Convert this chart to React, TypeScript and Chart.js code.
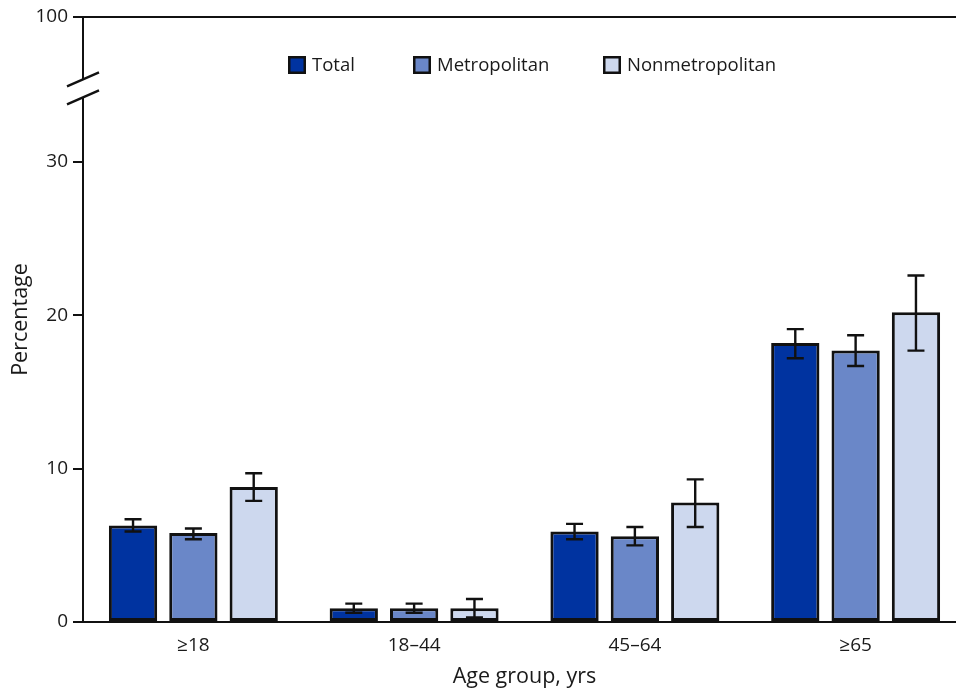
import React, { useEffect, useRef } from "react";
import { Chart, registerables } from "chart.js";

Chart.register(...registerables);

const categories = ["≥18", "18–44", "45–64", "≥65"];
const seriesNames = ["Total", "Metropolitan", "Nonmetropolitan"];
const totalValues = [6.3, 0.9, 5.9, 18.2];
const totalLower = [5.9, 0.6, 5.4, 17.2];
const totalUpper = [6.7, 1.2, 6.4, 19.1];
const metroValues = [5.8, 0.9, 5.6, 17.7];
const metroLower = [5.4, 0.6, 5.0, 16.7];
const metroUpper = [6.1, 1.2, 6.2, 18.7];
const nonmetroValues = [8.8, 0.9, 7.8, 20.2];
const nonmetroLower = [7.9, 0.3, 6.2, 17.7];
const nonmetroUpper = [9.7, 1.5, 9.3, 22.6];
const yTickValues = [0, 10, 20, 30];
const topTickLabel = "100";
const TOP = 39.46; // position of the broken-axis top tick
const BREAK_VALUE = 34.8;

const colors = ["#0033a0", "#6a87c8", "#cdd8ee"];
const FONT = "'Open Sans', 'DejaVu Sans', sans-serif";
const TEXT = "#1a1a1a";

const lowers = [totalLower, metroLower, nonmetroLower];
const uppers = [totalUpper, metroUpper, nonmetroUpper];
const legendOffsets = [205, 330, 520];

const errorBarPlugin = {
  id: "errorBars",
  afterDatasetsDraw(chart: any) {
    const ctx = chart.ctx;
    const y = chart.scales.y;
    ctx.save();
    ctx.strokeStyle = "#111";
    ctx.lineWidth = 2.4;
    chart.data.datasets.forEach((_ds: any, i: number) => {
      const meta = chart.getDatasetMeta(i);
      meta.data.forEach((el: any, j: number) => {
        const x = el.x;
        const yl = y.getPixelForValue(lowers[i][j]);
        const yu = y.getPixelForValue(uppers[i][j]);
        const cap = 8.5;
        ctx.beginPath();
        ctx.moveTo(x, yl);
        ctx.lineTo(x, yu);
        ctx.moveTo(x - cap, yl);
        ctx.lineTo(x + cap, yl);
        ctx.moveTo(x - cap, yu);
        ctx.lineTo(x + cap, yu);
        ctx.stroke();
      });
    });
    ctx.restore();
  },
};

const decorPlugin = {
  id: "decor",
  afterDraw(chart: any) {
    const ctx = chart.ctx;
    const area = chart.chartArea;
    const y = chart.scales.y;
    const left = area.left;
    // axis break
    const yc = y.getPixelForValue(BREAK_VALUE);
    const y1 = yc - 9;
    const y2 = yc + 9;
    ctx.save();
    ctx.fillStyle = "#fff";
    ctx.fillRect(left - 3, y1, 6, y2 - y1);
    ctx.strokeStyle = "#111";
    ctx.lineWidth = 2.4;
    ctx.beginPath();
    ctx.moveTo(left - 16, y1 + 7);
    ctx.lineTo(left + 16, y1 - 7);
    ctx.moveTo(left - 16, y2 + 7);
    ctx.lineTo(left + 16, y2 - 7);
    ctx.stroke();

    // legend
    ctx.font = `18.5px ${FONT}`;
    ctx.textBaseline = "middle";
    ctx.textAlign = "left";
    const box = 18;
    const gapText = 6;
    const ly = area.top + 48;
    seriesNames.forEach((n, i) => {
      const x = area.left + legendOffsets[i];
      ctx.fillStyle = colors[i];
      ctx.fillRect(x, ly - box / 2, box, box);
      ctx.lineWidth = 2.5;
      ctx.strokeStyle = "#111";
      ctx.strokeRect(x + 1.25, ly - box / 2 + 1.25, box - 2.5, box - 2.5);
      ctx.fillStyle = TEXT;
      ctx.fillText(n, x + box + gapText, ly + 1);
    });
    ctx.restore();
  },
};

export default function App() {
  const ref = useRef<HTMLCanvasElement>(null);
  useEffect(() => {
    if (!ref.current) return;
    const values = [totalValues, metroValues, nonmetroValues];
    const chart = new Chart(ref.current, {
      type: "bar",
      data: {
        labels: categories,
        datasets: seriesNames.map((name, i) => ({
          label: name,
          data: values[i],
          backgroundColor: colors[i],
          borderColor: "#111",
          borderWidth: 3,
          borderSkipped: false,
          barPercentage: 0.8,
          categoryPercentage: 0.82,
        })),
      },
      options: {
        animation: false,
        responsive: false,
        devicePixelRatio: 1,
        layout: { padding: { left: 0, top: 17, right: 9, bottom: 0 } },
        plugins: { legend: { display: false }, tooltip: { enabled: false } },
        scales: {
          x: {
            afterFit: (s: any) => {
              s.height = 67;
            },
            grid: { display: false, drawTicks: false, tickLength: 0 },
            border: { display: true, color: "#111", width: 2 },
            ticks: { padding: 12, color: TEXT, font: { family: FONT, size: 19 } },
            title: {
              display: true,
              text: "Age group, yrs",
              color: TEXT,
              font: { family: FONT, size: 21.5 },
              padding: { top: 0, bottom: -1 },
            },
          },
          y: {
            min: 0,
            max: TOP,
            afterFit: (s: any) => {
              s.width = 83;
            },
            afterBuildTicks: (s: any) => {
              s.ticks = [...yTickValues, TOP].map((v) => ({ value: v }));
            },
            grid: {
              drawOnChartArea: true,
              color: (c: any) => (c.tick && c.tick.value === TOP ? "#111" : "rgba(0,0,0,0)"),
              lineWidth: 2,
              tickLength: 10,
              tickColor: "#111",
              tickWidth: 2,
            },
            border: { display: true, color: "#111", width: 2 },
            ticks: {
              padding: 5,
              color: TEXT,
              font: { family: FONT, size: 19 },
              callback: (v: any) => (v === TOP ? topTickLabel : String(v)),
            },
            title: {
              display: true,
              text: "Percentage",
              color: TEXT,
              font: { family: FONT, size: 21.5 },
              padding: { top: 8, bottom: 0 },
            },
          },
        },
      },
      plugins: [errorBarPlugin, decorPlugin],
    } as any);
    return () => chart.destroy();
  }, []);
  return (
    <div style={{ position: "fixed", left: 0, top: 0, width: 956, height: 689, overflow: "hidden", background: "#fff" }}>
      <canvas ref={ref} width={975} height={689} style={{ display: "block" }} />
    </div>
  );
}
